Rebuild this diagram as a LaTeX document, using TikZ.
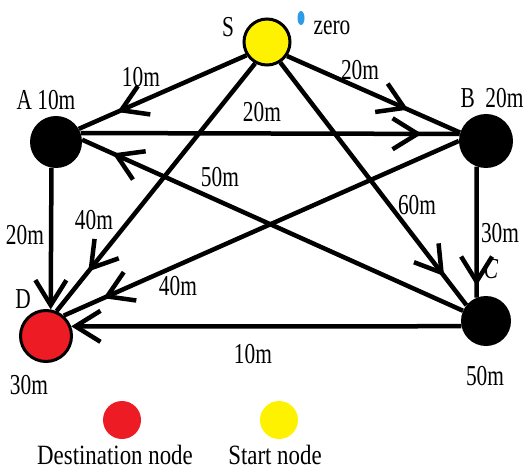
\documentclass[tikz,border=0pt]{standalone}
\usepackage{fontspec}
\setmainfont{Liberation Serif}
\newfontfamily\lblfont[FakeStretch=0.74]{Liberation Serif}
\newfontfamily\legfont[FakeStretch=0.82]{Liberation Serif}
\usetikzlibrary{arrows.meta,decorations.markings}
\definecolor{pyellow}{HTML}{FFF200}
\definecolor{pred}{HTML}{ED1C24}
\definecolor{pblue}{HTML}{2E9BE6}
\tikzset{
  vertex/.style={circle, inner sep=0pt, fill=black},
  edge/.style={line width=4.5bp},
  barb/.tip={Straight Barb[length=25bp,width=31bp,line width=4.5bp]},
  midarrow/.style={postaction={decorate}, decoration={markings,
     mark=at position #1 with {\arrow{barb}}}},
  lbl/.style={anchor=base, inner sep=0pt, font=\lblfont\fontsize{29}{32}\selectfont},
  leg/.style={anchor=base, inner sep=0pt, font=\legfont\fontsize{28}{30}\selectfont}
}
\begin{document}
\begin{tikzpicture}[x=1bp,y=-1bp]
\useasboundingbox (0,0) rectangle (525,470);
% nodes
\node[vertex, minimum size=46bp, fill=pyellow, draw=black, line width=3bp] (S) at (267,42) {};
\node[vertex, minimum size=52bp] (A) at (56,142) {};
\node[vertex, minimum size=54bp] (B) at (486,141) {};
\node[vertex, minimum size=50bp] (C) at (486,321) {};
\node[vertex, minimum size=51bp, fill=pred, draw=black, line width=3bp] (D) at (46,336) {};
% edges
\draw[edge, midarrow=0.77] (S.213) -- (A.30);
\draw[edge, midarrow=0.70] (S.325) -- (B.162);
\draw[edge, midarrow=0.90] (A.20) -- (B.165);
\draw[edge, midarrow=0.84] (S.241) -- (D.67);
\draw[edge, midarrow=0.88] (S.303) -- (C.141);
\draw[edge, -{barb}] (A.-100) -- (D.80);
\draw[edge, midarrow=0.91] (B.-110) -- (C.112);
\draw[edge, midarrow=0.92] (C.156) -- (A.5);
\draw[edge, midarrow=0.90] (B.180) -- (D.49);
\draw[edge, -{barb}] (C.192) -- (D.21);
% node labels
\node[lbl] (lS) at (228,37) {S};
\fill[pblue] (301,18) ellipse [x radius=3.5, y radius=7];
\node[lbl] (lzero) at (332,35) {zero};
\node[lbl] (lA) at (46,110) {A 10m};
\node[lbl] (lB) at (492,108) {B~~20m};
\node[lbl] (lD) at (23,308) {D};
\node[lbl] (lC) at (491,278) {\itshape C};
\node[lbl] (lC2) at (485,385) {50m};
\node[lbl] (lD2) at (29,394) {30m};
% edge labels
\node[lbl] (eSA) at (141,87) {10m};
\node[lbl] (eSB) at (360,80) {20m};
\node[lbl] (eAB) at (262,122) {20m};
\node[lbl] (eCA) at (220,187) {50m};
\node[lbl] (eBD) at (178,295) {40m};
\node[lbl] (eSC) at (417,215) {60m};
\node[lbl] (eSD) at (94,230) {40m};
\node[lbl] (eAD) at (25,245) {20m};
\node[lbl] (eBC) at (500,243) {30m};
\node[lbl] (eCD) at (253,363) {10m};
% legend
\node[circle, inner sep=0pt, minimum size=38bp, fill=pred] (legD) at (122,420) {};
\node[circle, inner sep=0pt, minimum size=38bp, fill=pyellow] (legS) at (279,420) {};
\node[leg] (tD) at (115,464) {Destination node};
\node[leg] (tS) at (275,464) {Start node};
\end{tikzpicture}
\end{document}
